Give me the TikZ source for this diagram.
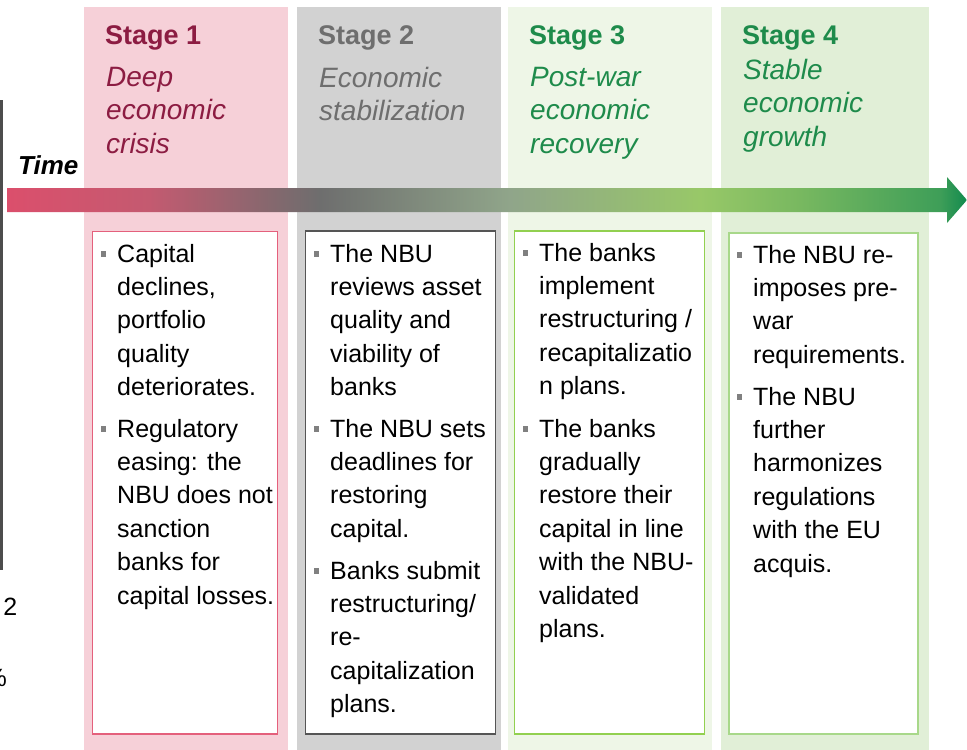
\documentclass[tikz,border=0pt]{standalone}
\usepackage{fontspec}
\setmainfont{Liberation Sans}
\usetikzlibrary{positioning}

\definecolor{band1}{HTML}{F6D0D8}
\definecolor{band2}{HTML}{D2D2D2}
\definecolor{band3}{HTML}{EEF6E7}
\definecolor{band4}{HTML}{E1EFD7}
\definecolor{box1}{HTML}{E4607C}
\definecolor{box2}{HTML}{555555}
\definecolor{box3}{HTML}{92D050}
\definecolor{box4}{HTML}{A8D88A}
\definecolor{head1}{HTML}{8C1C42}
\definecolor{head2}{HTML}{6E6E6E}
\definecolor{head3}{HTML}{1E8B4B}
\definecolor{bulgrey}{HTML}{808080}
\definecolor{cutgrey}{HTML}{4D4D4D}
\definecolor{tl0}{HTML}{DB4F6C}
\definecolor{tl1}{HTML}{C45A70}
\definecolor{tl2}{HTML}{7C6A6E}
\definecolor{tl3}{HTML}{6E6E6E}
\definecolor{tl4}{HTML}{90A58A}
\definecolor{tl5}{HTML}{98C868}
\definecolor{tl6}{HTML}{78B860}
\definecolor{tl7}{HTML}{3E9E58}
\definecolor{tl8}{HTML}{128A4E}

\pgfdeclarehorizontalshading{timeline}{100bp}{color(0bp)=(tl0); color(25bp)=(tl0);
  color(32.4bp)=(tl1); color(39.7bp)=(tl2); color(41.3bp)=(tl3); color(51.2bp)=(tl4);
  color(61.1bp)=(tl5); color(66.3bp)=(tl6); color(73.6bp)=(tl7); color(75bp)=(tl8);
  color(100bp)=(tl8)}

\newcommand\sqbul{\llap{\textcolor{bulgrey}{\rule[5.2pt]{5.5pt}{5.5pt}}\hspace{11pt}}}

\begin{document}
\begin{tikzpicture}[x=1pt, y=-1pt,
  stagetitle/.style={anchor=base west, inner sep=0pt, font=\fontsize{27}{33}\selectfont\bfseries},
  stagesub/.style={anchor=north west, yshift=18.7pt, inner sep=0pt, align=left,
    execute at begin node=\strut, font=\fontsize{28}{33.2}\selectfont\itshape},
  point/.style={anchor=north west, yshift=18.3pt, inner sep=0pt, align=left,
    execute at begin node=\strut, font=\fontsize{25}{33.4}\selectfont},
  textbox/.style={fill=white, line width=1.3pt}]

	\useasboundingbox (0,0) rectangle (967,750);

	% stage bands
	\fill[band1] (84,7) rectangle (288,750);
	\fill[band2] (297,7) rectangle (501,750);
	\fill[band3] (508,7) rectangle (712,750);
	\fill[band4] (721,7) rectangle (929,750);

	% left over from the next slide
	\draw[cutgrey, line width=3pt] (1.5,100) -- (1.5,570);
	\node[anchor=base east, inner sep=0pt, font=\fontsize{25}{30}\selectfont] (cut2) at (17.5,615) {2};
	\node[anchor=base east, inner sep=0pt, font=\fontsize{25}{30}\selectfont] (cutpct) at (7,686) {\%};

	% time arrow
	\coordinate (tstart) at (7,200);
	\coordinate (ttip) at (967,200);
	\shade[shading=timeline] (7,188) -- (947,188) -- (947,177) -- (ttip) -- (947,223) -- (947,212) -- (7,212) -- cycle;
	\node[anchor=base west, inner sep=0pt, font=\fontsize{26}{30}\selectfont\bfseries\itshape] (time) at (18,174) {Time};

	% headings
	\node[stagetitle, head1] (S1) at (105,44.5) {Stage 1};
	\node[stagetitle, head2] (S2) at (318,44.5) {Stage 2};
	\node[stagetitle, head3] (S3) at (529,44.5) {Stage 3};
	\node[stagetitle, head3] (S4) at (742,44.5) {Stage 4};
	\node[stagesub, head1] (D1) at (106,86) {Deep\\economic\\crisis};
	\node[stagesub, head2] (D2) at (319,86) {Economic\\stabilization};
	\node[stagesub, head3] (D3) at (530,86) {Post-war\\economic\\recovery};
	\node[stagesub, head3] (D4) at (743,78) {Stable\\economic\\growth};

	% text boxes
	\draw[textbox, draw=box1] (92.5,231.5) rectangle (277.5,734);
	\draw[textbox, draw=box2] (305.5,231) rectangle (495.5,734);
	\draw[textbox, draw=box3] (514.5,231) rectangle (704.5,734);
	\draw[textbox, draw=box4, line width=1.6pt] (729,233) rectangle (918,734);

	% stage 1
	\node[point] (P1a) at (117,262) {\sqbul Capital\\declines,\\portfolio\\quality\\deteriorates.};
	\node[point] (P1b) at (117,437) {\sqbul Regulatory\\easing: the\\NBU does not\\sanction\\banks for\\capital losses.};

	% stage 2
	\node[point] (P2a) at (330,262) {\sqbul The NBU\\reviews asset\\quality and\\viability of\\banks};
	\node[point] (P2b) at (330,437) {\sqbul The NBU sets\\deadlines for\\restoring\\capital.};
	\node[point] (P2c) at (330,579) {\sqbul Banks submit\\restructuring/\\re-\\capitalization\\plans.};

	% stage 3
	\node[point] (P3a) at (539,261) {\sqbul The banks\\implement\\restructuring /\\recapitalizatio\\n plans.};
	\node[point] (P3b) at (539,437) {\sqbul The banks\\gradually\\restore their\\capital in line\\with the NBU-\\validated\\plans.};

	% stage 4
	\node[point] (P4a) at (753,263) {\sqbul The NBU re-\\imposes pre-\\war\\requirements.};
	\node[point] (P4b) at (753,405) {\sqbul The NBU\\further\\harmonizes\\regulations\\with the EU\\acquis.};
\end{tikzpicture}
\end{document}
